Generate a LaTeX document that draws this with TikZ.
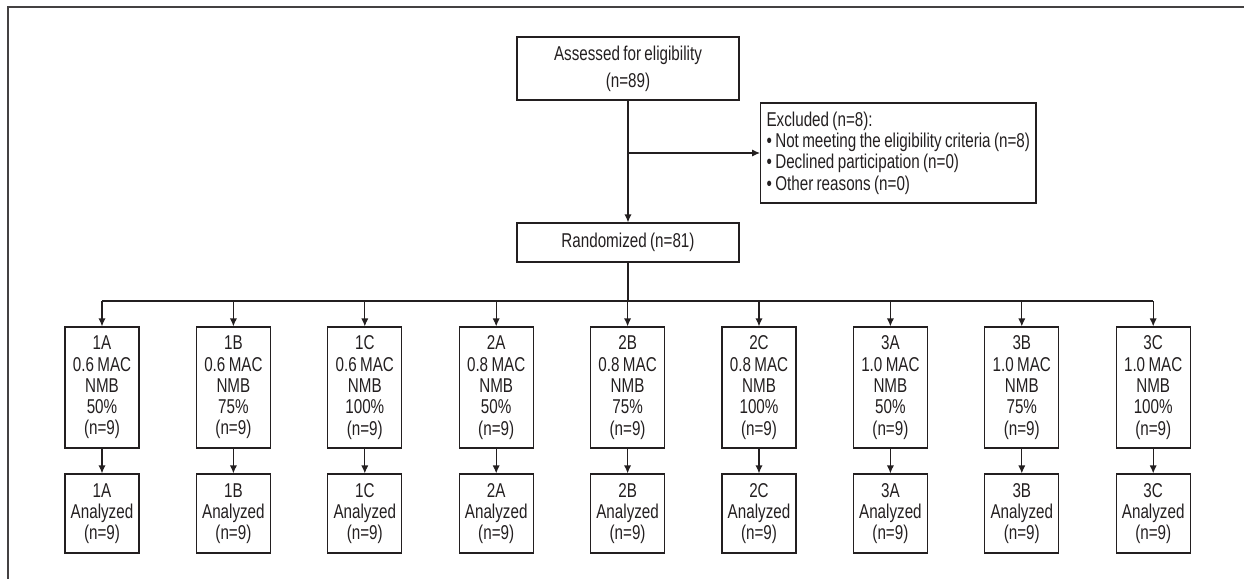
\documentclass[tikz,border=0pt]{standalone}
\usepackage{fontspec}
\setmainfont{Liberation Sans}[FakeStretch=0.76,WordSpace=0.8]
\usetikzlibrary{arrows.meta}
\definecolor{FlowInk}{HTML}{231F20}

\begin{document}
\begin{tikzpicture}[x=0.5pt,y=-0.5pt,>={Latex[length=4pt,width=3.6pt]},line cap=butt,line join=miter,
  flowbox/.style={draw=FlowInk,line width=0.6pt,text=FlowInk,align=center,inner sep=0pt,
    font=\fontsize{10}{10.65}\selectfont},
  flowline/.style={FlowInk,line width=0.6pt}]

% Canvas (pixel units, y pointing down) and frame
\useasboundingbox (0,0) rectangle (1244,579);
\draw[FlowInk!85,line width=0.8pt] (8,579) -- (8,7) -- (1244,7);

% Enrolment boxes
\node[flowbox,minimum width=111pt,minimum height=31.5pt] (assess) at (628,68.5)
    {Assessed for eligibility\\[3pt](n=89)};
\node[flowbox,align=left,inner xsep=3pt,minimum height=50pt,anchor=west] (excl) at (760,153)
    {Excluded (n=8):\\
     • Not meeting the eligibility criteria (n=8)\\
     • Declined participation (n=0)\\
     • Other reasons (n=0)};
\node[flowbox,minimum width=111pt,minimum height=19.5pt] (rand) at (628,242.5) {Randomized (n=81)};

\draw[flowline,->] (assess.south) -- (rand.north);
\draw[flowline,->] (assess.south |- excl.west) -- (excl.west);

% Allocation bus
\coordinate (bus) at (628,301);
\draw[flowline] (rand.south) -- (bus);

% Nine groups and their analysis boxes
\foreach \lab/\mac/\pct [count=\i from 0] in
    {1A/0.6/50\%,1B/0.6/75\%,1C/0.6/100\%,
     2A/0.8/50\%,2B/0.8/75\%,2C/0.8/100\%,
     3A/1.0/50\%,3B/1.0/75\%,3C/1.0/100\%}{
  \node[flowbox,minimum width=37pt,minimum height=60.5pt] (grp\lab) at ({102+131.4*\i},387.5)
      {\lab\\\mac{} MAC\\NMB\\\pct\\(n=9)};
  \node[flowbox,minimum width=37pt,minimum height=39.5pt] (ana\lab) at ({102+131.4*\i},513.5)
      {\lab\\Analyzed\\(n=9)};
  \draw[flowline,->] (grp\lab.north |- bus) -- (grp\lab.north);
  \draw[flowline,->] (grp\lab.south) -- (ana\lab.north);
}
\draw[flowline] (grp1A.north |- bus) -- (grp3C.north |- bus);

\end{tikzpicture}
\end{document}
